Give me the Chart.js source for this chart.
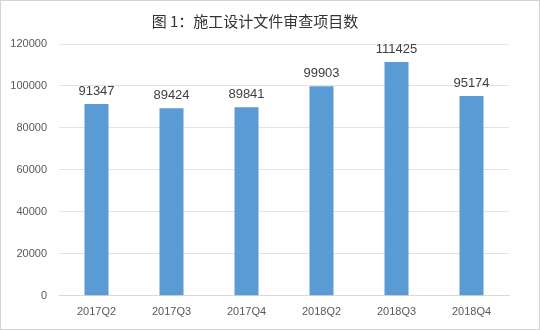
<!DOCTYPE html>
<html>
<head>
<meta charset="utf-8">
<script src="https://cdn.jsdelivr.net/npm/chart.js@4"></script>
<style>
  html, body { margin: 0; padding: 0; background: #fff; }
  #wrap { width: 538px; height: 328px; border: 1px solid #d4d4d4; position: relative; }
</style>
</head>
<body>
<div id="wrap"><canvas id="chart" width="538" height="328"></canvas></div>
<script>
const categories = ['2017Q2', '2017Q3', '2017Q4', '2018Q2', '2018Q3', '2018Q4'];
const projectCounts = [91347, 89424, 89841, 99903, 111425, 95174];
const yTicks = [0, 20000, 40000, 60000, 80000, 100000, 120000];

// draws the value above each bar
const valueLabels = {
  id: 'valueLabels',
  afterDatasetsDraw(chart) {
    const ctx = chart.ctx;
    const meta = chart.getDatasetMeta(0);
    ctx.save();
    ctx.font = '13px "Liberation Sans", Arial, sans-serif';
    ctx.fillStyle = '#404040';
    ctx.textAlign = 'center';
    ctx.textBaseline = 'bottom';
    meta.data.forEach((bar, i) => {
      ctx.fillText(String(projectCounts[i]), bar.x, bar.y - 6);
    });
    ctx.restore();
  }
};

new Chart(document.getElementById('chart'), {
  type: 'bar',
  data: {
    labels: categories,
    datasets: [{
      data: projectCounts,
      backgroundColor: '#5b9bd5',
      categoryPercentage: 1,
      barPercentage: 0.32
    }]
  },
  options: {
    responsive: false,
    animation: false,
    layout: { padding: { top: 0, right: 30, bottom: 0, left: 0 } },
    plugins: {
      legend: { display: false },
      tooltip: { enabled: false },
      title: {
        display: true,
        text: '图 1：施工设计文件审查项目数',
        color: '#333333',
        font: { family: '"Noto Sans CJK SC", sans-serif', size: 15, weight: 'normal' },
        padding: { top: 11, bottom: 14 }
      }
    },
    scales: {
      x: {
        grid: { display: false, drawTicks: false },
        border: { color: '#d9d9d9' },
        ticks: { color: '#595959', font: { family: '"Liberation Sans", Arial, sans-serif', size: 11 }, padding: 10 }
      },
      y: {
        min: 0,
        max: 120000,
        afterFit(scale) { scale.width = 58; },
        afterBuildTicks(scale) { scale.ticks = yTicks.map(v => ({ value: v })); },
        grid: { color: '#e3e3e3', drawTicks: false },
        border: { display: false },
        ticks: {
          color: '#595959',
          font: { family: '"Liberation Sans", Arial, sans-serif', size: 11 },
          padding: 12,
          callback: v => String(v)
        }
      }
    }
  },
  plugins: [valueLabels]
});
</script>
</body>
</html>
